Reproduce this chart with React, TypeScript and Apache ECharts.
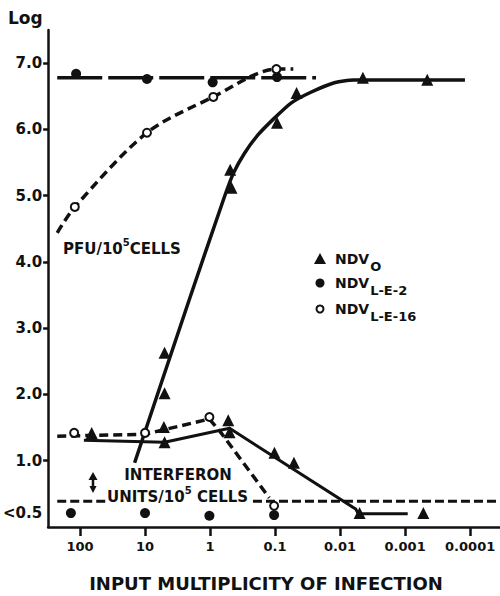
import React, { useEffect, useRef } from "react";
import * as echarts from "echarts";

// x values are log10(input multiplicity of infection); y values are log units
const xTickLog = [2, 1, 0, -1, -2, -3, -4];
const xTickLabels = ["100", "10", "1", "0.1", "0.01", "0.001", "0.0001"];
const yTickValues = [1, 2, 3, 4, 5, 6, 7];
const yBelowValue = 0.21; // position of the "<0.5" row

// NDV_O PFU
const ndv0PfuLog = [0.7, 0.7, -0.31, -0.33, -1.03, -1.33, -2.35, -3.34];
const ndv0PfuVal = [2.63, 2.02, 5.39, 5.12, 6.1, 6.55, 6.78, 6.75];
const ndv0PfuCurveLog = [1.16, 0.32, -0.22, -0.36, -0.53, -0.74, -0.99, -1.25, -1.55, -1.9, -2.21, -3.92];
const ndv0PfuCurveVal = [0.97, 3.43, 4.98, 5.34, 5.64, 5.92, 6.17, 6.4, 6.56, 6.7, 6.745, 6.745];

// NDV_L-E-2 PFU
const le2PfuLog = [2.06, 0.97, -0.04, -1.03];
const le2PfuVal = [6.84, 6.76, 6.71, 6.79];
const le2PfuLineLog = [2.35, -1.63];
const le2PfuLineVal = [6.78, 6.78];

// NDV_L-E-16 PFU
const le16PfuLog = [2.08, 0.97, -0.05, -1.02];
const le16PfuVal = [4.83, 5.95, 6.49, 6.91];
const le16PfuCurveLog = [2.35, 2.08, 0.97, -0.05, -1.02, -1.28];
const le16PfuCurveVal = [4.44, 4.83, 5.95, 6.49, 6.91, 6.91];

// NDV_O interferon
const ndv0IfnLog = [1.82, 0.71, 0.7, -0.28, -0.3, -0.99, -1.29, -2.3, -3.28];
const ndv0IfnVal = [1.42, 1.51, 1.28, 1.61, 1.43, 1.12, 0.97, 0.21, 0.21];
const ndv0IfnLineLog = [1.94, 0.7, -0.3, -2.24, -2.28, -3.04];
const ndv0IfnLineVal = [1.31, 1.28, 1.49, 0.27, 0.2, 0.2];

// NDV_L-E-16 interferon
const le16IfnLog = [2.09, 1.0, 0.01, -0.985];
const le16IfnVal = [1.42, 1.42, 1.66, 0.32];
const le16IfnLineLog = [2.35, 1.0, 0.01, -0.17, -0.91];
const le16IfnLineVal = [1.37, 1.4, 1.63, 1.42, 0.44];

// NDV_L-E-2 interferon (below detection)
const le2IfnLog = [2.14, 1.0, 0.01, -0.985];
const le2IfnVal = [0.21, 0.21, 0.17, 0.18];

// detection threshold line (two segments around the label)
const thresholdLog = [2.35, 1.56, null, -0.66, -4.45];
const thresholdVal = 0.39;

// uncertain NDV_O interferon point
const arrowLog = [1.8];
const arrowVal = [0.67];

const FONT = "DejaVu Sans";

const zip = (xs: (number | null)[], ys: number[] | number) =>
  xs.map((x, i) => (x === null ? [null, null] : [x, Array.isArray(ys) ? ys[i] : ys]));

export default function App() {
  const ref = useRef<HTMLDivElement>(null);
  useEffect(() => {
    if (!ref.current) return;
    const chart = echarts.init(ref.current, undefined, { renderer: "svg" });
    const black = "#111";
    const richSup = {
      a: { fontFamily: FONT, fontWeight: "bold", fontSize: 15, lineHeight: 17, padding: [4, 0, 0, 0], verticalAlign: "top", fill: black },
      s: { fontFamily: FONT, fontWeight: "bold", fontSize: 10, lineHeight: 11, verticalAlign: "top", fill: black },
    };
    const filled = { color: black, opacity: 1 };
    const open = { color: "#fff", borderColor: black, borderWidth: 2, opacity: 1 };
    const option: any = {
      animation: false,
      backgroundColor: "#fff",
      grid: { left: 46, right: 0, top: 30, bottom: 69 },
      xAxis: {
        type: "value",
        inverse: true,
        min: -4.459,
        max: 2.49,
        splitLine: { show: false },
        axisLine: { show: true, onZero: false, lineStyle: { color: black, width: 2.5 } },
        axisTick: {
          show: true,
          length: 9,
          customValues: xTickLog,
          lineStyle: { color: black, width: 2.5 },
        },
        axisLabel: {
          customValues: xTickLog,
          margin: 13,
          color: black,
          fontFamily: FONT,
          fontWeight: "bold",
          fontSize: 13,
          formatter: (v: number) => xTickLabels[xTickLog.indexOf(Math.round(v))] ?? "",
        },
      },
      yAxis: {
        type: "value",
        min: 0,
        max: 7.5,
        splitLine: { show: false },
        axisLine: { show: true, onZero: false, lineStyle: { color: black, width: 2.5 } },
        axisTick: {
          show: true,
          length: 5,
          customValues: yTickValues,
          lineStyle: { color: black, width: 2.5 },
        },
        axisLabel: {
          customValues: [yBelowValue, ...yTickValues],
          margin: 6,
          color: black,
          fontFamily: FONT,
          fontWeight: "bold",
          fontSize: 15,
          formatter: (v: number) => (v < 0.5 ? "<0.5" : v.toFixed(1)),
        },
      },
      series: [
        {
          type: "line",
          data: zip(thresholdLog, thresholdVal),
          showSymbol: false,
          connectNulls: false,
          lineStyle: { color: black, width: 3, type: [9, 4] },
          z: 1,
        },
        {
          type: "line",
          data: zip(le2PfuLineLog, le2PfuLineVal),
          showSymbol: false,
          lineStyle: { color: black, width: 3.5, type: [45, 6] },
          z: 2,
        },
        {
          type: "line",
          data: zip(le16PfuCurveLog, le16PfuCurveVal),
          showSymbol: false,
          smooth: 0.3,
          lineStyle: { color: black, width: 3.5, type: [9, 5] },
          z: 2,
        },
        {
          type: "line",
          data: zip(ndv0PfuCurveLog, ndv0PfuCurveVal),
          showSymbol: false,
          smooth: 0.2,
          lineStyle: { color: black, width: 3.5 },
          z: 2,
        },
        {
          type: "line",
          data: zip(ndv0IfnLineLog, ndv0IfnLineVal),
          showSymbol: false,
          lineStyle: { color: black, width: 3 },
          z: 2,
        },
        {
          type: "line",
          data: zip(le16IfnLineLog, le16IfnLineVal),
          showSymbol: false,
          lineStyle: { color: black, width: 3.5, type: [9, 5] },
          z: 2,
        },
        {
          type: "scatter",
          data: zip(ndv0PfuLog, ndv0PfuVal),
          symbol: "triangle",
          symbolSize: 12,
          itemStyle: filled,
          z: 5,
        },
        {
          type: "scatter",
          data: zip(ndv0IfnLog, ndv0IfnVal),
          symbol: "triangle",
          symbolSize: 12,
          itemStyle: filled,
          z: 5,
        },
        {
          type: "scatter",
          data: zip(le2PfuLog, le2PfuVal),
          symbol: "circle",
          symbolSize: 10,
          itemStyle: filled,
          z: 5,
        },
        {
          type: "scatter",
          data: zip(le2IfnLog, le2IfnVal),
          symbol: "circle",
          symbolSize: 10,
          itemStyle: filled,
          z: 5,
        },
        {
          type: "scatter",
          data: zip(le16PfuLog, le16PfuVal),
          symbol: "circle",
          symbolSize: 8,
          itemStyle: open,
          z: 6,
        },
        {
          type: "scatter",
          data: zip(le16IfnLog, le16IfnVal),
          symbol: "circle",
          symbolSize: 8,
          itemStyle: open,
          z: 6,
        },
        {
          type: "scatter",
          data: zip(arrowLog, arrowVal),
          symbol:
            "path://M5,0 L10,8 L6.4,8 L6.4,14 L9,14 L5,21 L1,14 L3.6,14 L3.6,8 L0,8 Z",
          symbolSize: [9, 21],
          itemStyle: filled,
          z: 5,
        },
      ],
      graphic: [
        {
          type: "text",
          x: 8,
          y: 18,
          style: {
            text: "Log",
            fill: black,
            font: `bold 17px "${FONT}"`,
            textAlign: "left",
            textVerticalAlign: "middle",
            align: "left",
            verticalAlign: "middle",
          },
        },
        {
          type: "text",
          x: 63,
          y: 246,
          style: {
            text: "{a|PFU/10}{s|5}{a|CELLS}",
            fill: black,
            textAlign: "left",
            textVerticalAlign: "middle",
            align: "left",
            verticalAlign: "middle",
            rich: richSup,
          },
        },
        {
          type: "text",
          x: 178,
          y: 475,
          style: {
            text: "INTERFERON",
            fill: black,
            font: `bold 15px "${FONT}"`,
            textAlign: "center",
            textVerticalAlign: "middle",
            align: "center",
            verticalAlign: "middle",
          },
        },
        {
          type: "text",
          x: 107,
          y: 494,
          style: {
            text: "{a|UNITS/10}{s|5}{a| CELLS}",
            fill: black,
            textAlign: "left",
            textVerticalAlign: "middle",
            align: "left",
            verticalAlign: "middle",
            rich: richSup,
          },
        },
        {
          type: "text",
          x: 266,
          y: 583,
          style: {
            text: "INPUT MULTIPLICITY OF INFECTION",
            fill: black,
            font: `bold 18px "${FONT}"`,
            textAlign: "center",
            textVerticalAlign: "middle",
            align: "center",
            verticalAlign: "middle",
          },
        },
        // legend markers
        {
          type: "polygon",
          shape: { points: [[320, 253], [326, 264], [314, 264]] },
          style: { fill: black },
        },
        { type: "circle", shape: { cx: 320, cy: 283, r: 4.5 }, style: { fill: black } },
        {
          type: "circle",
          shape: { cx: 320, cy: 309, r: 3.5 },
          style: { fill: "#fff", stroke: black, lineWidth: 2 },
        },
        ...[
          { y: 252, sub: "O" },
          { y: 276, sub: "L-E-2" },
          { y: 302, sub: "L-E-16" },
        ].map((l) => ({
          type: "text",
          x: 335,
          y: l.y,
          style: {
            text: `{a|NDV}{b|${l.sub}}`,
            fill: black,
            textAlign: "left",
            textVerticalAlign: "top",
            align: "left",
            verticalAlign: "top",
            rich: {
              a: { fontFamily: FONT, fontWeight: "bold", fontSize: 14, lineHeight: 16, verticalAlign: "top", fill: black },
              b: { fontFamily: FONT, fontWeight: "bold", fontSize: 13, lineHeight: 15, padding: [8, 0, 0, 1], verticalAlign: "top", fill: black },
            },
          },
        })),
      ],
    };
    chart.setOption(option);
    return () => chart.dispose();
  }, []);
  return (
    <div
      ref={ref}
      style={{ position: "absolute", left: 0, top: 0, width: 500, height: 596 }}
    />
  );
}
